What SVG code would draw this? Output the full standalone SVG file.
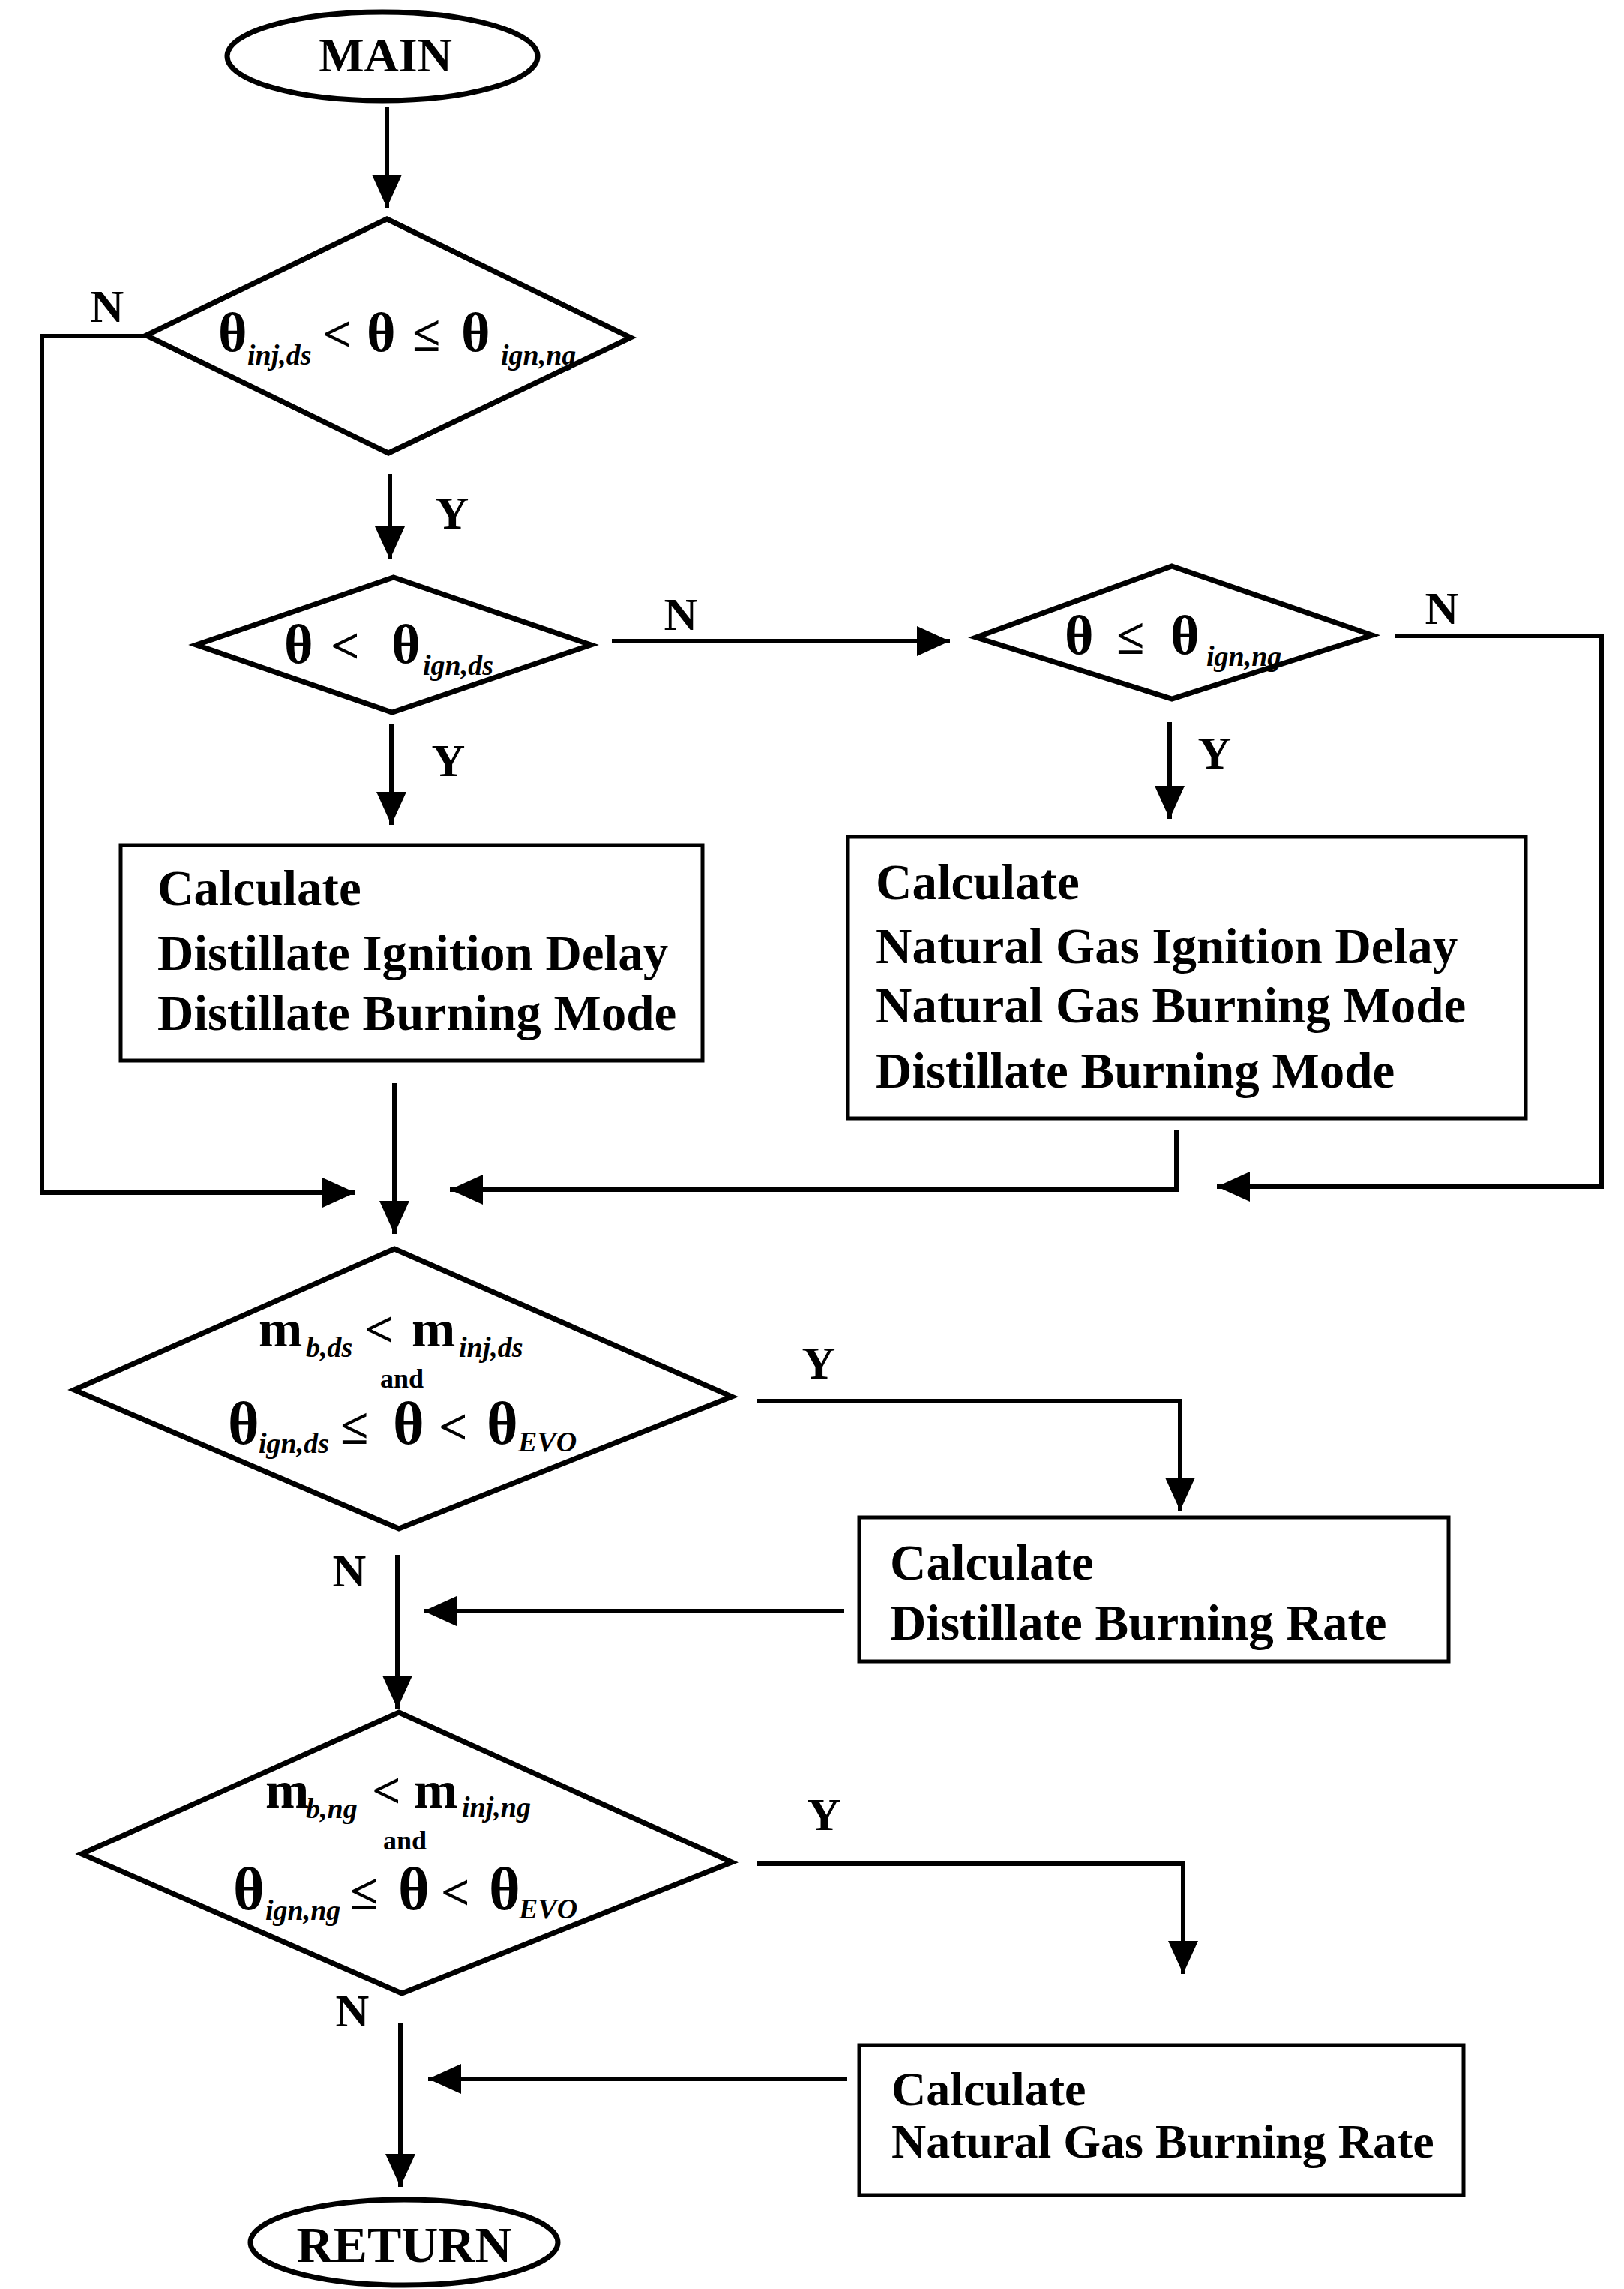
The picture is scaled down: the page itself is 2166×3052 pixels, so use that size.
<svg xmlns="http://www.w3.org/2000/svg" width="2166" height="3052" viewBox="0 0 2166 3052">
<defs>
<style>
text{font-family:"Liberation Serif","DejaVu Serif",serif;font-weight:bold;fill:#000}
.lbl{font-size:62px;text-anchor:middle}
.bx{font-size:67px}
.term{font-size:64px;text-anchor:middle}
.th{font-size:74px}
.thb{font-size:80px}
.op{font-size:68px}
.sub{font-size:38px;font-style:italic}
.and{font-size:36px;text-anchor:middle}
.mm{font-size:70px}
.shape{fill:#fff;stroke:#000;stroke-width:7}
.rect{fill:#fff;stroke:#000;stroke-width:5}
.conn{fill:none;stroke:#000;stroke-width:6;marker-end:url(#ah)}
</style>
<marker id="ah" markerUnits="userSpaceOnUse" markerWidth="44" markerHeight="40" refX="44" refY="20" orient="auto">
<path d="M0,0 L44,20 L0,40 Z" fill="#000"/>
</marker>
</defs>
<rect width="2166" height="3052" fill="#fff"/>

<g id="connectors">
<path class="conn" d="M516,143 V277"/>
<path class="conn" d="M195,448 H56 V1590 H474"/>
<path class="conn" d="M520,632 V746"/>
<path class="conn" d="M816,855 H1267"/>
<path class="conn" d="M522,965 V1100"/>
<path class="conn" d="M1560,963 V1092"/>
<path class="conn" d="M1861,848 H2136 V1582 H1623"/>
<path class="conn" d="M526,1444 V1645"/>
<path class="conn" d="M1569,1507 V1586 H600"/>
<path class="conn" d="M1009,1868 H1574 V2014"/>
<path class="conn" d="M1126,2148 H565"/>
<path class="conn" d="M530,2073 V2278"/>
<path class="conn" d="M1009,2485 H1578 V2632"/>
<path class="conn" d="M1130,2772 H571"/>
<path class="conn" d="M534,2697 V2916"/>
</g>

<g id="labels">
<text class="lbl" x="143" y="429">N</text>
<text class="lbl" x="603" y="705">Y</text>
<text class="lbl" x="908" y="840">N</text>
<text class="lbl" x="1923" y="832">N</text>
<text class="lbl" x="598" y="1035">Y</text>
<text class="lbl" x="1620" y="1025">Y</text>
<text class="lbl" x="1092" y="1838">Y</text>
<text class="lbl" x="466" y="2115">N</text>
<text class="lbl" x="1099" y="2440">Y</text>
<text class="lbl" x="470" y="2702">N</text>
</g>

<g id="main">
<ellipse class="shape" cx="510" cy="75" rx="207" ry="59"/>
<text class="term" x="514" y="95">MAIN</text>
</g>

<g id="decision1">
<polygon class="shape" points="516,292 841,450 518,604 195,447"/>
<text y="468"><tspan class="th" x="291">θ</tspan><tspan class="sub" x="330" y="486">inj,ds</tspan><tspan class="op" x="430" y="468">&lt;</tspan><tspan class="th" x="489">θ</tspan><tspan class="op" x="550">≤</tspan><tspan class="th" x="615">θ</tspan><tspan class="sub" x="668" y="486">ign,ng</tspan></text>
</g>

<g id="decision2">
<polygon class="shape" points="525,770 788,860 523,950 262,860"/>
<text y="884"><tspan class="th" x="379">θ</tspan><tspan class="op" x="441">&lt;</tspan><tspan class="th" x="522">θ</tspan><tspan class="sub" x="564" y="900">ign,ds</tspan></text>
</g>

<g id="decision3">
<polygon class="shape" points="1563,755 1830,847 1563,932 1302,850"/>
<text y="872"><tspan class="th" x="1420">θ</tspan><tspan class="op" x="1489">≤</tspan><tspan class="th" x="1561">θ</tspan><tspan class="sub" x="1609" y="888">ign,ng</tspan></text>
</g>

<g id="box1">
<rect class="rect" x="161" y="1127" width="776" height="287"/>
<text class="bx" x="210" y="1207">Calculate</text>
<text class="bx" x="210" y="1293">Distillate Ignition Delay</text>
<text class="bx" x="210" y="1373">Distillate Burning Mode</text>
</g>

<g id="box2">
<rect class="rect" x="1131" y="1116" width="904" height="375"/>
<text class="bx" x="1168" y="1199">Calculate</text>
<text class="bx" x="1168" y="1284">Natural Gas Ignition Delay</text>
<text class="bx" x="1168" y="1363">Natural Gas Burning Mode</text>
<text class="bx" x="1168" y="1450">Distillate Burning Mode</text>
</g>

<g id="decision4">
<polygon class="shape" points="526,1665 976,1862 532,2038 99,1853"/>
<text y="1795"><tspan class="mm" x="345">m</tspan><tspan class="sub" x="408" y="1809">b,ds</tspan><tspan class="op" x="486" y="1795">&lt;</tspan><tspan class="mm" x="549">m</tspan><tspan class="sub" x="612" y="1809">inj,ds</tspan></text>
<text class="and" x="536" y="1850">and</text>
<text y="1925"><tspan class="thb" x="304">θ</tspan><tspan class="sub" x="345" y="1937">ign,ds</tspan><tspan class="op" x="454" y="1925">≤</tspan><tspan class="thb" x="524">θ</tspan><tspan class="op" x="585">&lt;</tspan><tspan class="thb" x="649">θ</tspan><tspan class="sub" x="691" y="1935">EVO</tspan></text>
</g>

<g id="box3">
<rect class="rect" x="1146" y="2023" width="786" height="192"/>
<text class="bx" x="1187" y="2106">Calculate</text>
<text class="bx" x="1187" y="2186">Distillate Burning Rate</text>
</g>

<g id="decision5">
<polygon class="shape" points="532,2283 976,2483 536,2658 109,2472"/>
<text y="2410"><tspan class="mm" x="354">m</tspan><tspan class="sub" x="408" y="2424">b,ng</tspan><tspan class="op" x="496" y="2410">&lt;</tspan><tspan class="mm" x="552">m</tspan><tspan class="sub" x="616" y="2422">inj,ng</tspan></text>
<text class="and" x="540" y="2466">and</text>
<text y="2546"><tspan class="thb" x="311">θ</tspan><tspan class="sub" x="354" y="2560">ign,ng</tspan><tspan class="op" x="467" y="2546">≤</tspan><tspan class="thb" x="531">θ</tspan><tspan class="op" x="588">&lt;</tspan><tspan class="thb" x="652">θ</tspan><tspan class="sub" x="692" y="2558">EVO</tspan></text>
</g>

<g id="box4">
<rect class="rect" x="1146" y="2727" width="806" height="200"/>
<text class="bx" x="1189" y="2807" style="font-size:64px">Calculate</text>
<text class="bx" x="1189" y="2877" style="font-size:64px">Natural Gas Burning Rate</text>
</g>

<g id="return">
<ellipse class="shape" cx="539" cy="2990" rx="205" ry="57"/>
<text class="term" x="539" y="3016" style="font-size:68px">RETURN</text>
</g>
</svg>
